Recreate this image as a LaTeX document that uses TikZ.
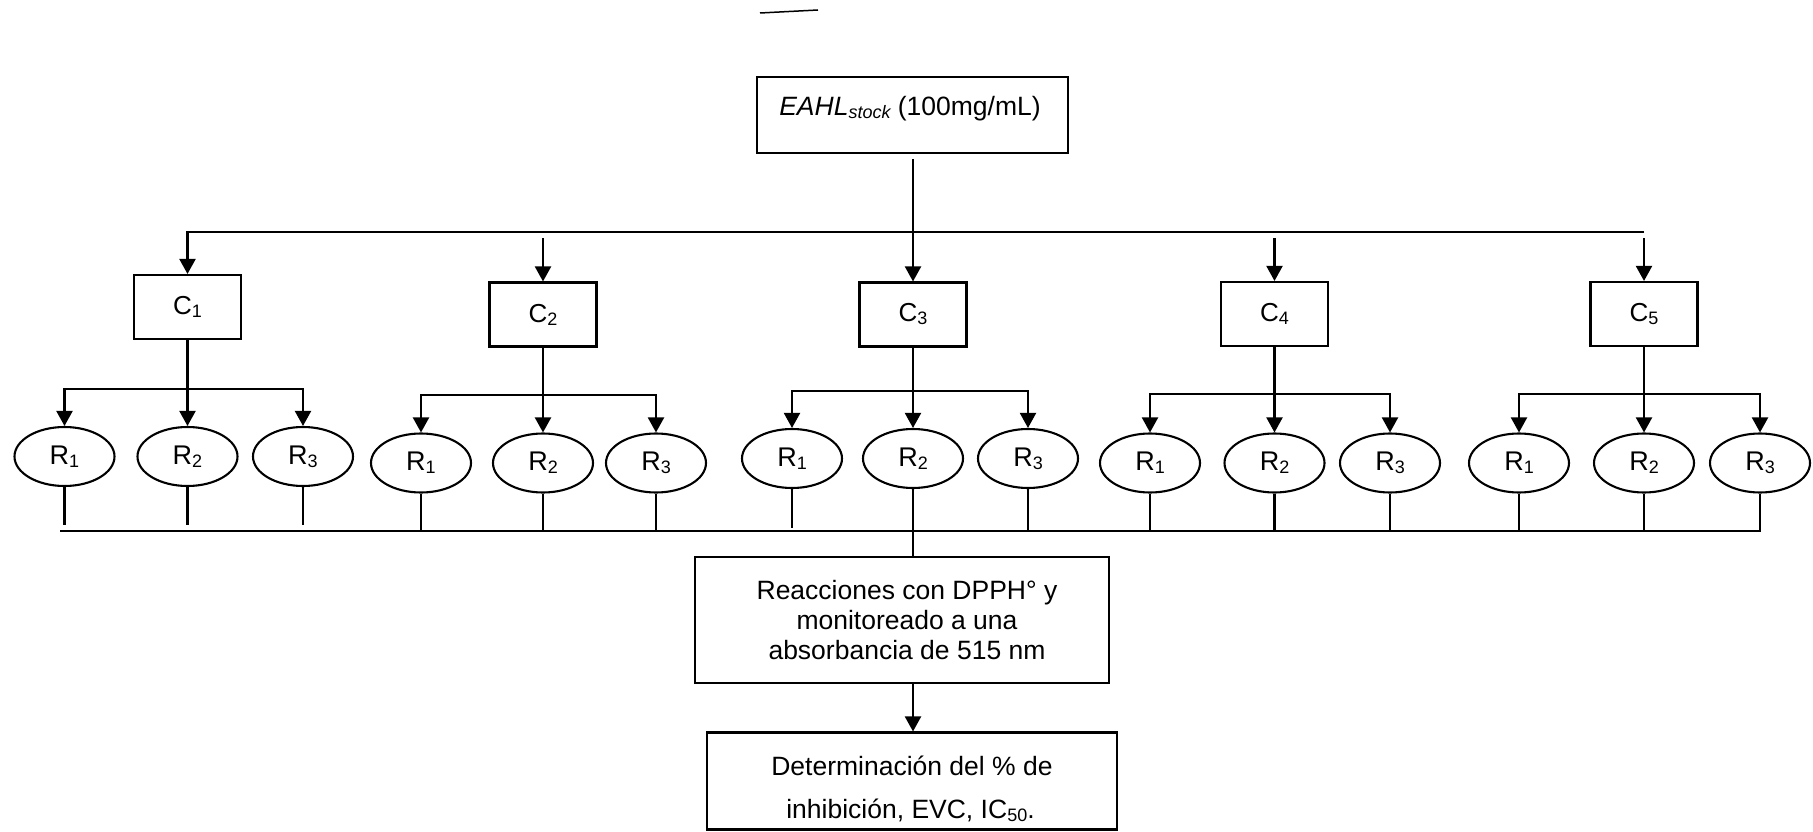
\documentclass[tikz,border=0pt]{standalone}
\usepackage{fontspec}
\setmainfont{Liberation Sans}
\usetikzlibrary{arrows.meta,shapes.geometric}
\newcommand\sbs[1]{\raisebox{-3pt}{\fontsize{18}{18}\selectfont #1}}
\begin{document}
\begin{tikzpicture}[x=1pt,y=-1pt,
  ln/.style={line width=2.1pt},
  arr/.style={ln,-{Triangle[width=16pt,length=15pt]}},
  cbox/.style={draw,ln,minimum width=107pt,minimum height=64pt,inner sep=0pt,font=\fontsize{26}{30}\selectfont},
  rell/.style={draw,ln,ellipse,minimum width=100pt,minimum height=59pt,inner sep=0pt,font=\fontsize{27}{30}\selectfont},
  tbox/.style={draw,ln,inner sep=0pt},
  txt/.style={font=\fontsize{26.5}{30}\selectfont,align=center,inner sep=0pt}]
\useasboundingbox (0,0) rectangle (1813,832);
% scan mark at top
\coordinate (s1) at (760,13);
\coordinate (s2) at (818,10);
\draw[line width=1.5pt] (s1) -- (s2);
% top box
\node[tbox,minimum width=311pt,minimum height=76pt] (T) at (912.5,115) {};
\node[txt,anchor=base] (Tt) at (910,116) {\textit{EAHL}\sbs{\itshape stock} (100mg/mL)};
% concentration boxes
\node[cbox] (C1) at (187.5,307) {C\sbs{1}};
\node[cbox] (C2) at (543,314.5) {C\sbs{2}};
\node[cbox] (C3) at (913,314.5) {C\sbs{3}};
\node[cbox] (C4) at (1274.5,314) {C\sbs{4}};
\node[cbox] (C5) at (1644,314) {C\sbs{5}};
% replicate ellipses
\node[rell] (R11) at (64.5,456.5) {R\sbs{1}};
\node[rell] (R12) at (187.5,456.5) {R\sbs{2}};
\node[rell] (R13) at (303,456.5) {R\sbs{3}};
\node[rell] (R21) at (421,463) {R\sbs{1}};
\node[rell] (R22) at (543,463) {R\sbs{2}};
\node[rell] (R23) at (656,463) {R\sbs{3}};
\node[rell] (R31) at (792,458.5) {R\sbs{1}};
\node[rell] (R32) at (913,458.5) {R\sbs{2}};
\node[rell] (R33) at (1028,458.5) {R\sbs{3}};
\node[rell] (R41) at (1150,463) {R\sbs{1}};
\node[rell] (R42) at (1274.5,463) {R\sbs{2}};
\node[rell] (R43) at (1390,463) {R\sbs{3}};
\node[rell] (R51) at (1519,463) {R\sbs{1}};
\node[rell] (R52) at (1644,463) {R\sbs{2}};
\node[rell] (R53) at (1760,463) {R\sbs{3}};
% lower boxes
\node[tbox,minimum width=414pt,minimum height=126pt] (D1) at (902,620) {};
\node[txt] (D1t) at (907,620.5) {Reacciones con DPPH° y\\monitoreado a una\\absorbancia de 515 nm};
\node[tbox,minimum width=410pt,minimum height=97pt] (D2) at (912,781) {};
\node[txt,anchor=base] (D2a) at (912,775) {Determinación del \% de};
\node[txt,anchor=base] (D2b) at (910.5,818) {inhibición, EVC, IC\sbs{50}.};
% helper levels
\coordinate (G0) at (0,159);
\coordinate (H) at (1644,232);
\coordinate (G) at (0,238);
\coordinate (B1) at (0,389);
\coordinate (B2) at (0,395);
\coordinate (B3) at (0,391);
\coordinate (B4) at (0,394);
\coordinate (B5) at (0,394);
\coordinate (L) at (60,531);
\coordinate (Rr) at (1761,531);
\coordinate (Lg) at (0,525);
\coordinate (Lh) at (0,528);
% top distribution
\draw[arr] (C3.north |- G0) -- (C3.north);
\draw[arr] (H) -| (C1.north);
\draw[arr] (C2.north |- G) -- (C2.north);
\draw[arr] (C4.north |- G) -- (C4.north);
\draw[arr] (C5.north |- G) -- (C5.north);
% branches to replicates
\foreach \g in {1,...,5}{
  \draw[arr] (C\g.south) -- (R\g2.north);
  \draw[arr] (C\g.south |- B\g) -| (R\g1.north);
  \draw[arr] (C\g.south |- B\g) -| (R\g3.north);
}
% collecting line
\draw[ln] (L) -- (Rr);
\draw[ln] (R11.south) -- (R11.south |- Lg);
\draw[ln] (R12.south) -- (R12.south |- Lg);
\draw[ln] (R13.south) -- (R13.south |- Lg);
\draw[ln] (R31.south) -- (R31.south |- Lh);
\foreach \n in {R21,R22,R23,R33,R41,R42,R43,R51,R52,R53}{
  \draw[ln] (\n.south) -- (\n.south |- L);
}
\draw[ln] (R32.south) -- (D1.north -| R32.south);
\draw[arr] (D1.south -| R32.south) -- (D2.north -| R32.south);
\end{tikzpicture}
\end{document}
